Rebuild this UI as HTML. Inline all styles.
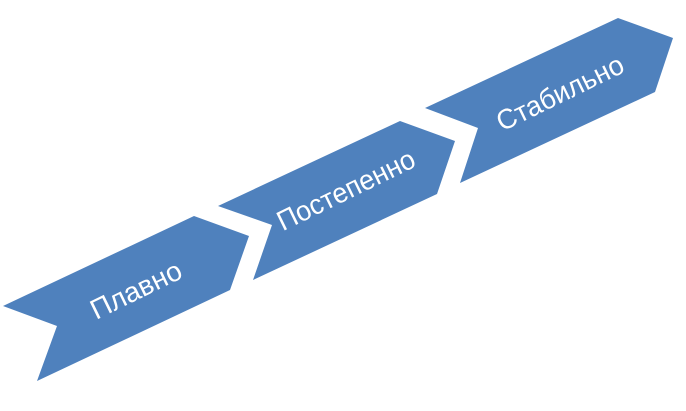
<!DOCTYPE html>
<html><head><meta charset="utf-8"><style>html,body{margin:0;padding:0;background:#fff;}svg{display:block}</style></head>
<body>
<svg width="686" height="411" viewBox="0 0 686 411" xmlns="http://www.w3.org/2000/svg">
<g fill="#4f81bd">
<polygon points="3,306 194,216 249,236 230,290 37,381 57,326"/>
<polygon points="218,206 400,121 455,141 437,194 253,280 272,225"/>
<polygon points="425,108 618,18 673,38 655,92 460,183 478,128"/>
</g>
<g fill="#fff" font-family="'Liberation Sans', sans-serif" font-size="28" text-anchor="middle" dominant-baseline="central">
<text transform="translate(136,290) rotate(-26)" textLength="98" lengthAdjust="spacingAndGlyphs">Плавно</text>
<text transform="translate(346,190) rotate(-26)" textLength="150" lengthAdjust="spacingAndGlyphs">Постепенно</text>
<text transform="translate(560,93) rotate(-26)" textLength="138" lengthAdjust="spacingAndGlyphs">Стабильно</text>
</g>
</svg>
</body></html>
